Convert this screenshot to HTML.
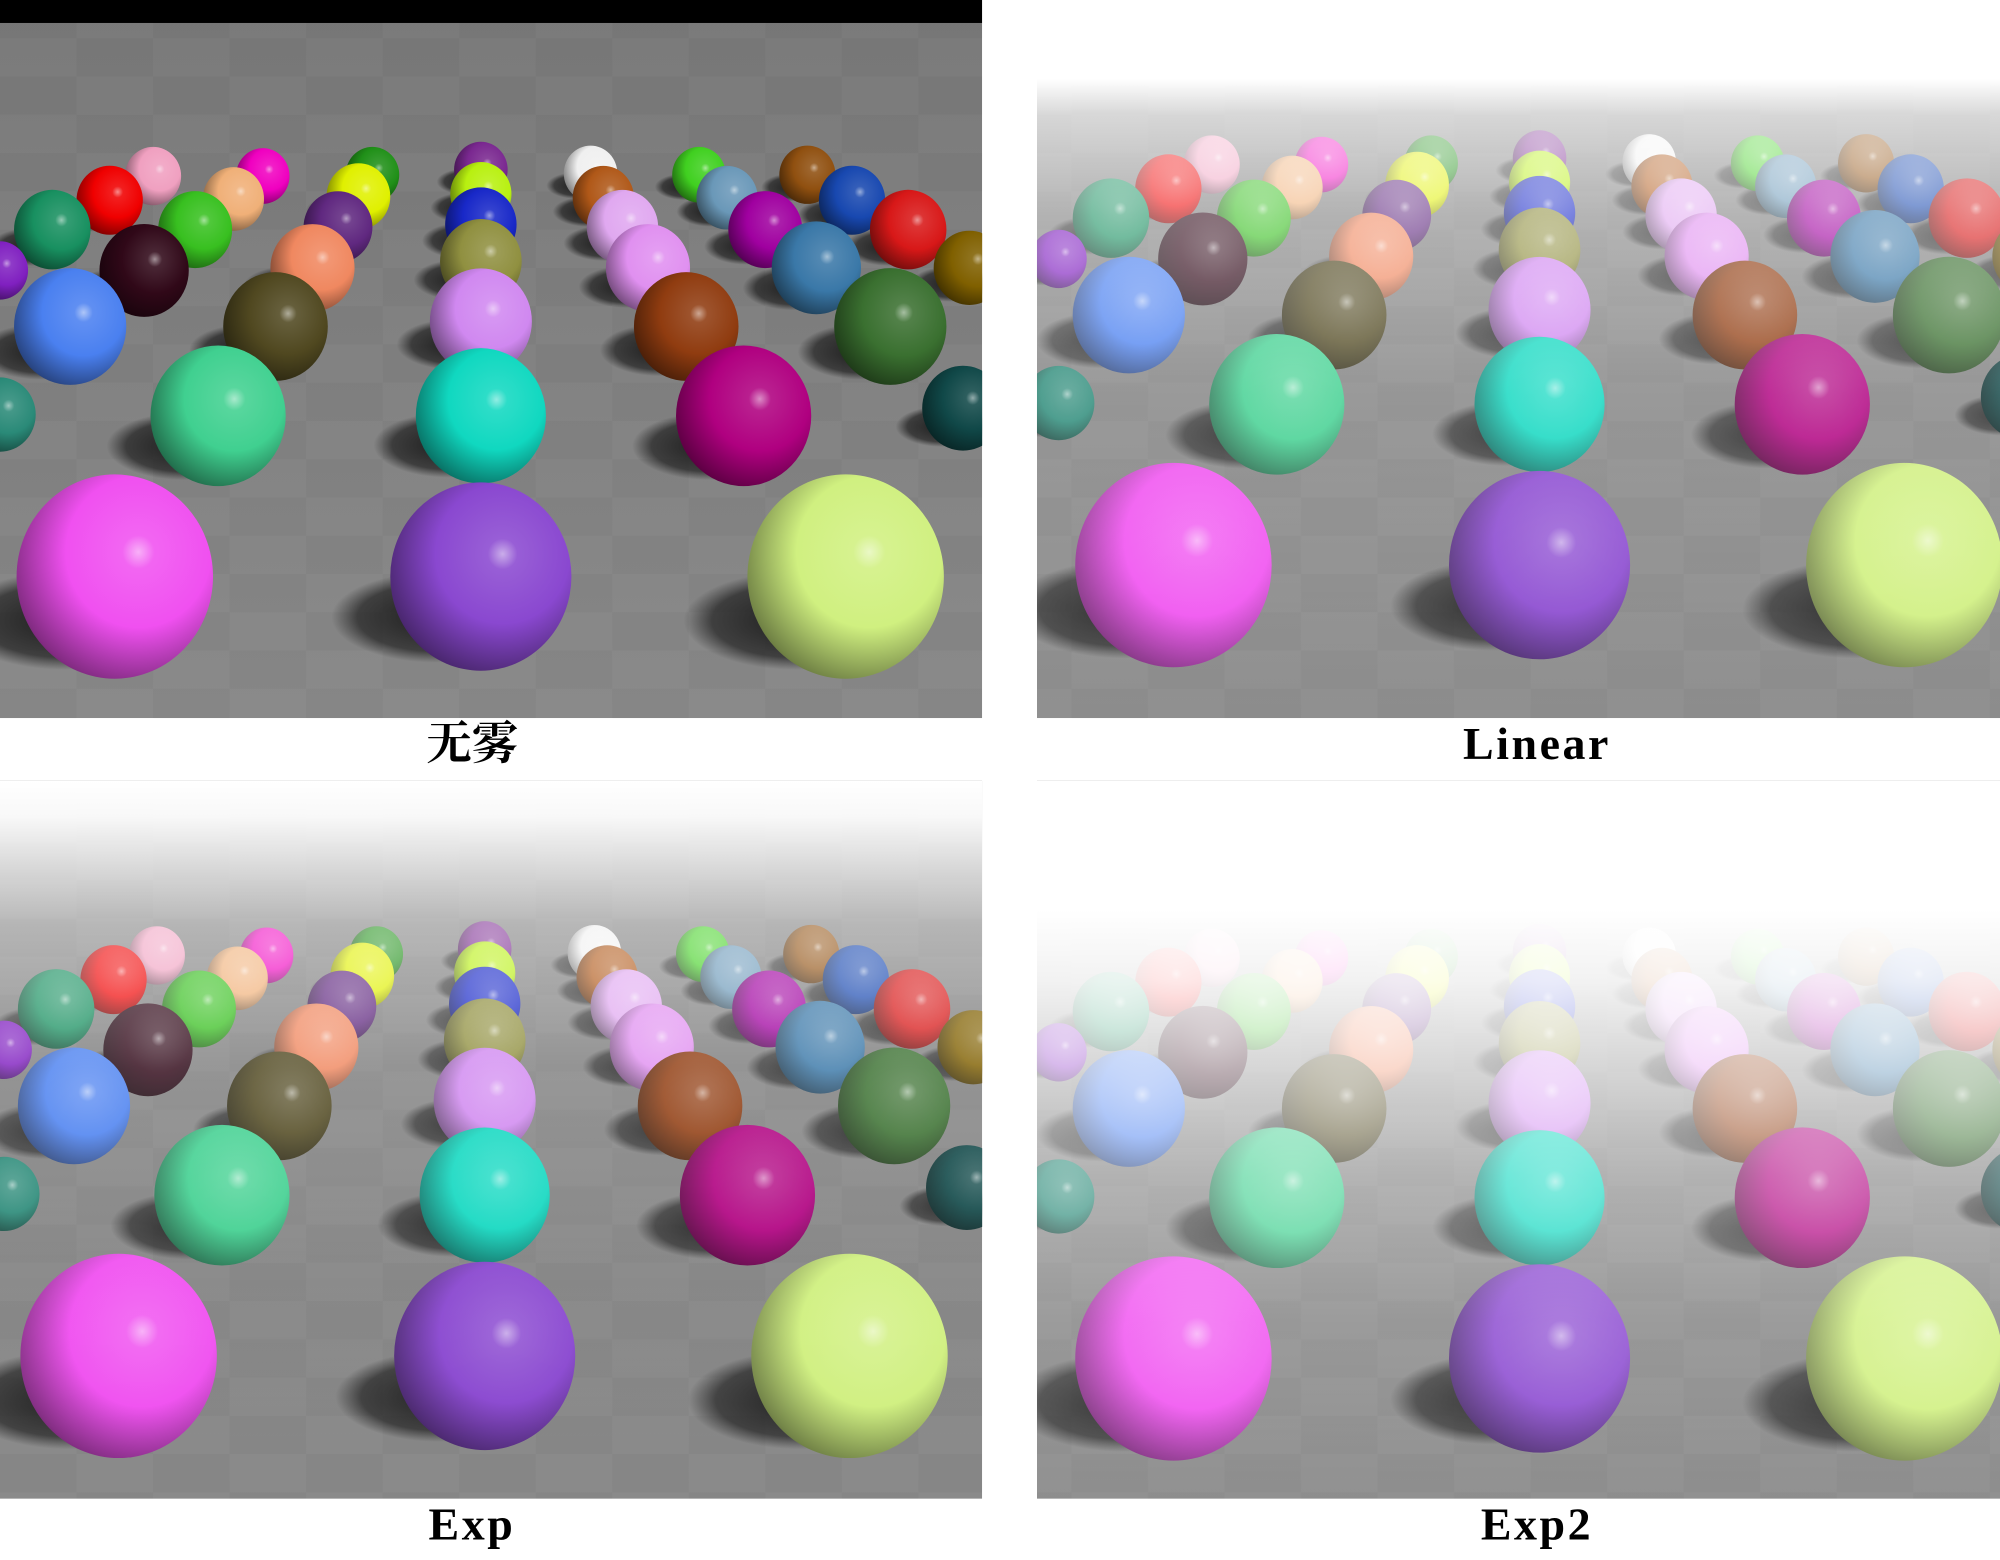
<!DOCTYPE html>
<html><head><meta charset="utf-8"><style>
html,body{margin:0;padding:0;background:#fff;width:2000px;height:1560px;overflow:hidden}
svg{display:block}
</style></head><body>
<svg id="fig" width="2000" height="1560" viewBox="0 0 1568 1223" preserveAspectRatio="none" xmlns="http://www.w3.org/2000/svg">
<defs id="defs">
<linearGradient id="floorG" x1="0" y1="0" x2="0" y2="1">
<stop offset="0" stop-color="#7a7a7a"/><stop offset="1" stop-color="#8a8a8a"/></linearGradient>
<radialGradient id="shadowG"><stop offset="0" stop-color="#111" stop-opacity="0.9"/><stop offset="0.75" stop-color="#181818" stop-opacity="0.65"/><stop offset="1" stop-color="#222" stop-opacity="0"/></radialGradient>
<linearGradient id="fogLinear" x1="0" y1="0" x2="0" y2="1">
<stop offset="0" stop-color="#fff" stop-opacity="1"/><stop offset="0.11" stop-color="#fff" stop-opacity="1"/><stop offset="0.16" stop-color="#fff" stop-opacity="0.7"/><stop offset="0.3" stop-color="#fff" stop-opacity="0.42"/><stop offset="0.55" stop-color="#fff" stop-opacity="0.18"/><stop offset="1" stop-color="#fff" stop-opacity="0.05"/></linearGradient>
<linearGradient id="fogExp" x1="0" y1="0" x2="0" y2="1">
<stop offset="0" stop-color="#fff" stop-opacity="1"/><stop offset="0.05" stop-color="#fff" stop-opacity="0.95"/><stop offset="0.2" stop-color="#fff" stop-opacity="0.45"/><stop offset="0.4" stop-color="#fff" stop-opacity="0.18"/><stop offset="0.7" stop-color="#fff" stop-opacity="0.05"/><stop offset="1" stop-color="#fff" stop-opacity="0"/></linearGradient>
<linearGradient id="fogExp2" x1="0" y1="0" x2="0" y2="1">
<stop offset="0" stop-color="#fff" stop-opacity="1"/><stop offset="0.18" stop-color="#fff" stop-opacity="1"/><stop offset="0.28" stop-color="#fff" stop-opacity="0.9"/><stop offset="0.4" stop-color="#fff" stop-opacity="0.68"/><stop offset="0.55" stop-color="#fff" stop-opacity="0.4"/><stop offset="0.75" stop-color="#fff" stop-opacity="0.18"/><stop offset="1" stop-color="#fff" stop-opacity="0.06"/></linearGradient>
</defs>
<g id="panels"></g>
<text x="370" y="595" text-anchor="middle" font-family="'Liberation Serif','Noto Serif CJK SC',serif" font-weight="bold" font-size="36">无雾</text>
<text x="1205" y="595" text-anchor="middle" font-family="'Liberation Serif',serif" font-weight="bold" font-size="36" letter-spacing="2">Linear</text>
<text x="370" y="1207" text-anchor="middle" font-family="'Liberation Serif',serif" font-weight="bold" font-size="36" letter-spacing="2">Exp</text>
<text x="1205" y="1207" text-anchor="middle" font-family="'Liberation Serif',serif" font-weight="bold" font-size="36" letter-spacing="2">Exp2</text>
</svg>
<script>
// sphere data (scene coordinates in the unfogged panel)
const sphereX = [90,377,663, 0,171,377,583,755, 55,216,377,538,698, 0,113,245,377,508,640,760, 41,153,265,377,488,600,712, 86,183,281,377,473,570,668, 120,206,292,377,463,548,633];
const sphereY = [452,452,452, 325,326,326,326,320, 256,256,252,256,256, 212,212,210,205,210,210,210, 180,180,178,176,178,180,180, 157,156,154,152,155,155,157, 138,138,137,133,136,137,137];
const sphereR = [77,71,77, 28,53,51,53,32, 44,41,40,41,44, 22,35,33,32,33,35,28, 30,29,27,28,28,29,30, 26,24,25,24,24,24,26, 22,21,21,21,21,21,22];
const sphereColor = ['#f050f0','#8a48d0','#d0f080','#2a8a78','#40d090','#10d8c0','#b00080','#104848','#4a80f0','#504820','#d088f0','#903c10','#3a7030','#8020c0','#300818','#f08860','#909040','#e090f0','#3a78a8','#806000','#189060','#38c020','#602880','#1828c8','#e0a8f0','#a000a0','#d81818','#f00000','#f0b078','#e0f000','#b8f010','#b05818','#6a98b8','#1848b0','#f0a0c0','#f000c0','#209018','#7a2890','#f0f0f0','#40d020','#905010'];
const panels = [
  {name:'no-fog', x:0, y:0, w:770, h:563, dx:0, dy:0, fog:null, top:18},
  {name:'linear', x:813, y:0, w:755, h:563, dx:830, dy:-9, fog:'fogLinear', top:0},
  {name:'exp', x:0, y:612, w:770, h:563, dx:3, dy:611, fog:'fogExp', top:0},
  {name:'exp2', x:813, y:612, w:755, h:563, dx:830, dy:613, fog:'fogExp2', top:0}
];
const NS='http://www.w3.org/2000/svg';
const defs=document.getElementById('defs');
const root=document.getElementById('panels');
function mk(t,a,p){const e=document.createElementNS(NS,t);for(const k in a)e.setAttribute(k,a[k]);p.appendChild(e);return e;}
function shade(hex,f){let r=parseInt(hex.substr(1,2),16),g=parseInt(hex.substr(3,2),16),b=parseInt(hex.substr(5,2),16);
 if(f<0){r*=1+f;g*=1+f;b*=1+f;}else{r+=(255-r)*f;g+=(255-g)*f;b+=(255-b)*f;}
 return 'rgb('+Math.round(r)+','+Math.round(g)+','+Math.round(b)+')';}
sphereColor.forEach((c,i)=>{
  const g=mk('radialGradient',{id:'sg'+i,cx:'0.62',cy:'0.38',r:'0.82',fx:'0.62',fy:'0.38'},defs);
  mk('stop',{offset:'0','stop-color':shade(c,0.55)},g);
  mk('stop',{offset:'0.1','stop-color':shade(c,0.12)},g);
  mk('stop',{offset:'0.45','stop-color':c},g);
  mk('stop',{offset:'0.8','stop-color':shade(c,-0.45)},g);
  mk('stop',{offset:'1','stop-color':shade(c,-0.85)},g);
});
// checker pattern
const pat=mk('pattern',{id:'checker',width:'120',height:'60',patternUnits:'userSpaceOnUse'},defs);
mk('rect',{x:0,y:0,width:60,height:30,fill:'#000','fill-opacity':'0.03'},pat);
mk('rect',{x:60,y:30,width:60,height:30,fill:'#000','fill-opacity':'0.03'},pat);
const order=sphereY.map((y,i)=>i).sort((a,b)=>sphereY[a]-sphereY[b]);
panels.forEach((p,pi)=>{
  const cp=mk('clipPath',{id:'clip'+pi},defs);
  mk('rect',{x:p.x,y:p.y,width:p.w,height:p.h},cp);
  const g=mk('g',{'clip-path':'url(#clip'+pi+')'},root);
  
  
  const floor=mk('rect',{x:p.x,y:p.y,width:p.w,height:p.h,fill:'url(#floorG)'},g);
  
  
  mk('rect',{x:p.x,y:p.y,width:p.w,height:p.h,fill:'url(#checker)'},g);
  if(p.top){const band=mk('rect',{x:p.x,y:p.y,width:p.w,height:p.top,fill:'#000'},g);
    
    }
  order.forEach(i=>{
    const cx=sphereX[i]+p.dx, cy=sphereY[i]+p.dy, r=sphereR[i];
    mk('ellipse',{cx:cx-r*0.5,cy:cy+r*0.45,rx:r*1.15,ry:r*0.5,fill:'url(#shadowG)'},g);
  });
  order.forEach(i=>{
    const cx=sphereX[i]+p.dx, cy=sphereY[i]+p.dy, r=sphereR[i];
    const s=mk('ellipse',{cx:cx,cy:cy,rx:r,ry:r*1.04,fill:'url(#sg'+i+')'},g);
    
    
  });
  if(p.fog){const f=mk('rect',{x:p.x,y:p.y,width:p.w,height:p.h,fill:'url(#'+p.fog+')'},g);
    
    }
});
</script>
</body></html>
